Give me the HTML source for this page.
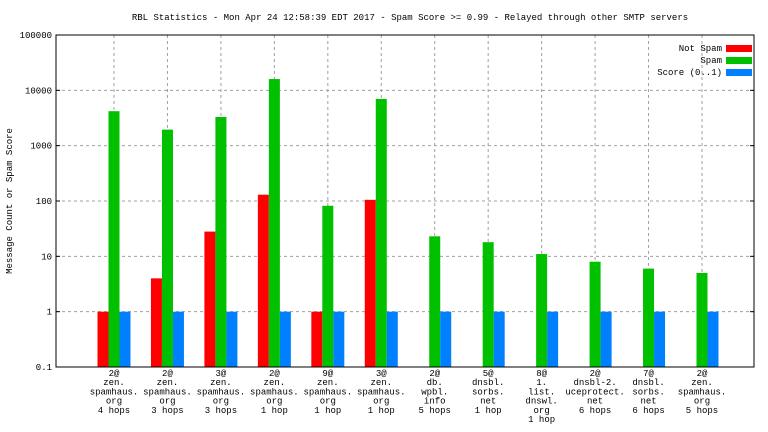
<!DOCTYPE html>
<html><head><meta charset="utf-8"><style>
body{margin:0;background:#fff}
svg{display:block;font-family:"Liberation Mono",monospace;font-size:9px}
</style></head><body>
<svg id="c" width="768" height="432">
<text x="410" y="20" text-anchor="middle">RBL Statistics - Mon Apr 24 12:58:39 EDT 2017 - Spam Score &gt;= 0.99 - Relayed through other SMTP servers</text>
<text transform="translate(12,201) rotate(-90)" text-anchor="middle">Message Count or Spam Score</text>
<g id="grid"></g><g id="bars"></g><g id="ticks"></g>
<rect x="56" y="35" width="698" height="332" fill="none" stroke="#000"/>
<g>
<text x="722" y="51" text-anchor="end">Not Spam</text>
<rect x="726" y="45" width="26" height="7" fill="#ff0000"/>
<text x="722" y="63" text-anchor="end">Spam</text>
<rect x="726" y="57" width="26" height="7" fill="#00c000"/>
<text x="722" y="75" text-anchor="end">Score (0..1)</text>
<rect x="726" y="69" width="26" height="7" fill="#0080ff"/>
</g>
</svg>
<script>
const categories=[["2@","zen.","spamhaus.","org","4 hops"],["2@","zen.","spamhaus.","org","3 hops"],["3@","zen.","spamhaus.","org","3 hops"],["2@","zen.","spamhaus.","org","1 hop"],["9@","zen.","spamhaus.","org","1 hop"],["3@","zen.","spamhaus.","org","1 hop"],["2@","db.","wpbl.","info","5 hops"],["5@","dnsbl.","sorbs.","net","1 hop"],["8@","1.","list.","dnswl.","org","1 hop"],["2@","dnsbl-2.","uceprotect.","net","6 hops"],["7@","dnsbl.","sorbs.","net","6 hops"],["2@","zen.","spamhaus.","org","5 hops"]];
const notSpam=[1,4,28,130,1,105,0,0,0,0,0,0];
const spam=[4200,1950,3300,16000,82,7000,23,18,11,8,6,5];
const score=[1,1,1,1,1,1,1,1,1,1,1,1];
const yTicks=[0.1,1,10,100,1000,10000,100000];
const yTickLabels=["0.1","1","10","100","1000","10000","100000"];
const NS="http://www.w3.org/2000/svg";
const L=56,R=754,T=35,B=367;
function y(v){return B-(Math.log10(v)+1)/6*(B-T);}
function x(i){return 114+i*(702-114)/(categories.length-1);}
function mk(tag,attrs,parent,text){const e=document.createElementNS(NS,tag);for(const k in attrs)e.setAttribute(k,attrs[k]);if(text!==undefined)e.textContent=text;document.getElementById(parent).appendChild(e);return e;}
yTicks.forEach((v,i)=>{
  const yy=y(v);
  if(i>0&&i<yTicks.length-1){const g=mk('line',{x1:L,x2:R,y1:yy,y2:yy,stroke:'#a0a0a0','stroke-dasharray':'3,3'},'grid');
  
  }
  const t=mk('text',{x:L-4,y:yy+3,'text-anchor':'end'},'ticks',yTickLabels[i]);
  
  
  mk('line',{x1:L,x2:L+4,y1:yy,y2:yy,stroke:'#000'},'ticks');
  mk('line',{x1:R-4,x2:R,y1:yy,y2:yy,stroke:'#000'},'ticks');
});
categories.forEach((c,i)=>{
  const cx=x(i);
  const g=mk('line',{x1:cx,x2:cx,y1:T,y2:B,stroke:'#a0a0a0','stroke-dasharray':'3,3'},'grid');
  
  
  const series=[[notSpam[i],'#ff0000',-1,'bar-not-spam'],[spam[i],'#00c000',0,'bar-spam'],[score[i],'#0080ff',1,'bar-score']];
  series.forEach(s=>{
    if(s[0]>0){const yy=y(s[0]);const r=mk('rect',{x:cx-5.5+s[2]*11,y:yy,width:11,height:B-yy,fill:s[1]},'bars');
    
    }
  });
  c.forEach((ln,j)=>{
    const t=mk('text',{x:cx,y:376+j*9.2,'text-anchor':'middle'},'ticks',ln);
    
    
  });
});
</script>
</body></html>
